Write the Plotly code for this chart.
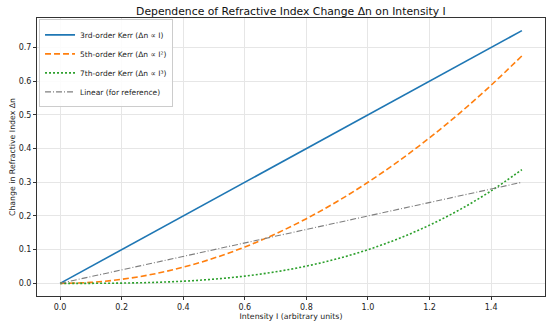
import plotly.graph_objects as go

intensity = [0.0, 0.1, 0.2, 0.3, 0.4, 0.5, 0.6, 0.7, 0.8, 0.9, 1.0, 1.1, 1.2, 1.3, 1.4, 1.5]
kerr3 = [0.0, 0.05, 0.10, 0.15, 0.20, 0.25, 0.30, 0.35, 0.40, 0.45, 0.50, 0.55, 0.60, 0.65, 0.70, 0.75]
kerr5 = [0.0, 0.003, 0.012, 0.027, 0.048, 0.075, 0.108, 0.147, 0.192, 0.243, 0.300, 0.363, 0.432, 0.507, 0.588, 0.675]
kerr7 = [0.0, 0.0001, 0.0008, 0.0027, 0.0064, 0.0125, 0.0216, 0.0343, 0.0512, 0.0729, 0.100, 0.1331, 0.1728, 0.2197, 0.2744, 0.3375]
linear = [0.0, 0.02, 0.04, 0.06, 0.08, 0.10, 0.12, 0.14, 0.16, 0.18, 0.20, 0.22, 0.24, 0.26, 0.28, 0.30]

names = ["3rd-order Kerr (Δn ∝ I)", "5th-order Kerr (Δn ∝ I²)", "7th-order Kerr (Δn ∝ I³)", "Linear (for reference)"]
x_ticks = [0.0, 0.2, 0.4, 0.6, 0.8, 1.0, 1.2, 1.4]
y_ticks = [0.0, 0.1, 0.2, 0.3, 0.4, 0.5, 0.6, 0.7]

fig = go.Figure()
fig.add_trace(go.Scatter(x=intensity, y=kerr3, name=names[0], mode="lines",
                         line=dict(color="#1f77b4", width=1.6)))
fig.add_trace(go.Scatter(x=intensity, y=kerr5, name=names[1], mode="lines",
                         line=dict(color="#ff7f0e", width=1.6, dash="6px,3px", shape="spline")))
fig.add_trace(go.Scatter(x=intensity, y=kerr7, name=names[2], mode="lines",
                         line=dict(color="#2ca02c", width=1.6, dash="2px,2px", shape="spline")))
fig.add_trace(go.Scatter(x=intensity, y=linear, name=names[3], mode="lines",
                         line=dict(color="#7f7f7f", width=1.1, dash="6px,2px,1px,2px")))

axis_common = dict(showline=True, linecolor="#333333", linewidth=1, mirror=True,
                   ticks="outside", ticklen=3, tickcolor="#333333", automargin=False,
                   showgrid=True, gridcolor="#e6e6e6", gridwidth=1, zeroline=False,
                   tickfont=dict(size=8, color="#222222"))

fig.update_layout(
    width=550, height=324,
    margin=dict(l=37, r=5, t=18, b=28, autoexpand=False),
    paper_bgcolor="white", plot_bgcolor="white",
    font=dict(family="DejaVu Sans", size=8, color="#222222"),
    title=dict(text="Dependence of Refractive Index Change Δn on Intensity I",
               x=0.529, xanchor="center", y=0.978, yanchor="top",
               font=dict(size=10.8, color="#111111")),
    xaxis=dict(range=[-0.075, 1.575], tickvals=x_ticks, tickformat=".1f",
               title=dict(text="Intensity I (arbitrary units)", font=dict(size=7.8), standoff=2),
               **axis_common),
    yaxis=dict(range=[-0.0375, 0.7875], tickvals=y_ticks, tickformat=".1f",
               title=dict(text="Change in Refractive Index Δn", font=dict(size=7.8), standoff=1),
               **axis_common),
    legend=dict(x=0.004, y=0.995, xanchor="left", yanchor="top",
                bgcolor="rgba(255,255,255,0.85)", bordercolor="#cccccc", borderwidth=1,
                font=dict(size=7.5), tracegroupgap=0, itemwidth=30),
    showlegend=True,
)

fig.write_html("out.html", config={"displayModeBar": False},
               post_script="document.body.style.margin='0px';")
